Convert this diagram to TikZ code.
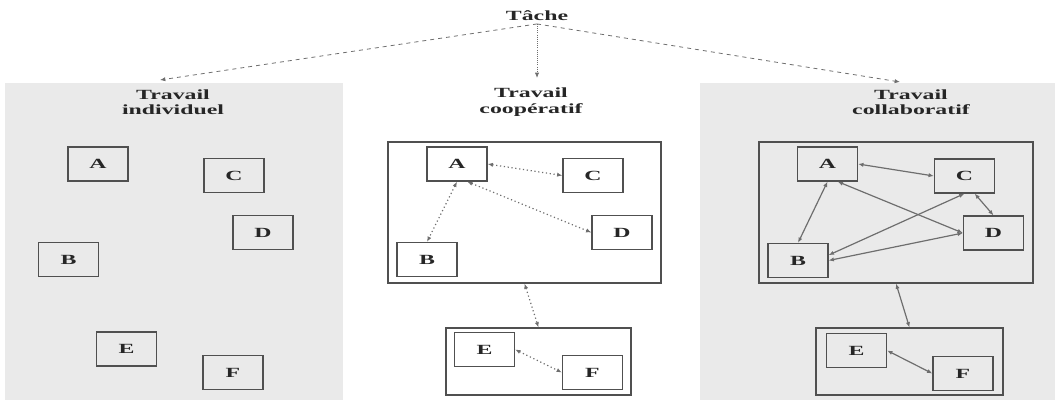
\documentclass[tikz,border=0pt]{standalone}
\usepackage{fontspec}
\usetikzlibrary{arrows.meta}
\newfontfamily\wideserif[FakeStretch=1.7]{Liberation Serif}
\definecolor{panelgrey}{RGB}{234,234,234}
\definecolor{boxline}{RGB}{80,80,80}
\definecolor{linkgrey}{RGB}{110,110,110}
\begin{document}
\begin{tikzpicture}[x=0.75pt,y=-0.75pt,
  txt/.style={font=\wideserif\bfseries\fontsize{10.5}{11.5}\selectfont, text=black!85},
  member/.style={txt, draw=boxline, line width=0.9pt,
    minimum width=45pt, minimum height=25.5pt, inner sep=0pt},
  team/.style={draw=boxline, line width=0.8pt, inner sep=0pt},
  title/.style={txt, align=center, inner sep=0pt},
  tip/.style={{Latex[length=4pt,width=3.2pt]}-{Latex[length=4pt,width=3.2pt]}},
  branch/.style={draw=linkgrey, line width=0.6pt, dashed, -{Latex[length=4pt,width=3.2pt]}},
  coop/.style={draw=linkgrey, line width=0.9pt, dotted, tip},
  collab/.style={draw=linkgrey, line width=0.9pt, tip}]
\useasboundingbox (0,0) rectangle (1060,404);
% panel backgrounds
\fill[panelgrey] (5,83) rectangle (343,400);
\fill[panelgrey] (700,83) rectangle (1055,400);

% root and branches
\node[txt, inner sep=2pt] (tache) at (537,16) {Tâche};
\coordinate (tl) at (160,80);
\coordinate (tm) at (537,78);
\coordinate (tr) at (900,82);
\draw[branch] (tache.south) -- (tl);
\draw[branch, densely dotted] (tache.south) -- (tm);
\draw[branch] (tache.south) -- (tr);

\node[title] (t1) at (173,102) {Travail\\individuel};
\node[title] (t2) at (531,102) {Travail\\coopératif};
\node[title] (t3) at (911,102) {Travail\\collaboratif};

% individual work
\node[member] (lA) at (98,164) {A};
\node[member] (lC) at (234,175.5) {C};
\node[member] (lD) at (263,232.5) {D};
\node[member] (lB) at (68.5,259.5) {B};
\node[member] (lE) at (126.5,349) {E};
\node[member] (lF) at (233,372.5) {F};

% cooperative work
\node[team, minimum width=204.75pt, minimum height=105.75pt] (mG1) at (524.5,212.5) {};
\node[team, minimum width=138.75pt, minimum height=50.25pt] (mG2) at (538.5,361.5) {};
\node[member] (mA) at (457,164) {A};
\node[member] (mC) at (593,175.5) {C};
\node[member] (mD) at (622,232.5) {D};
\node[member] (mB) at (427,259.5) {B};
\node[member] (mE) at (484.5,349.5) {E};
\node[member] (mF) at (592.5,372.5) {F};
\draw[coop] (mA.east) -- (mC.west);
\draw[coop] (mA.south) -- (mB.north);
\draw[coop] (mA.-60) -- (mD.west);
\draw[coop] (mG1.south) -- (mG2.north);
\draw[coop] (mE.east) -- (mF.west);

% collaborative work
\node[team, minimum width=205.5pt, minimum height=105.75pt] (rG1) at (896,212.5) {};
\node[team, minimum width=140.25pt, minimum height=50.25pt] (rG2) at (909.5,361.5) {};
\node[member] (rA) at (827.5,164) {A};
\node[member] (rC) at (964.5,176) {C};
\node[member] (rD) at (993.5,233) {D};
\node[member] (rB) at (798,260.5) {B};
\node[member] (rE) at (856.5,350.5) {E};
\node[member] (rF) at (963,373.5) {F};
\draw[collab] (rA.east) -- (rC.west);
\draw[collab] (rA.south) -- (rB.north);
\draw[collab] (rA.-60) -- (rD.west);
\draw[collab] (rB.10) -- (rC.south);
\draw[collab] (rB.east) -- (rD.west);
\draw[collab] (rC.-60) -- (rD.north);
\draw[collab] (rG1.south) -- (rG2.north);
\draw[collab] (rE.east) -- (rF.west);
\end{tikzpicture}
\end{document}
